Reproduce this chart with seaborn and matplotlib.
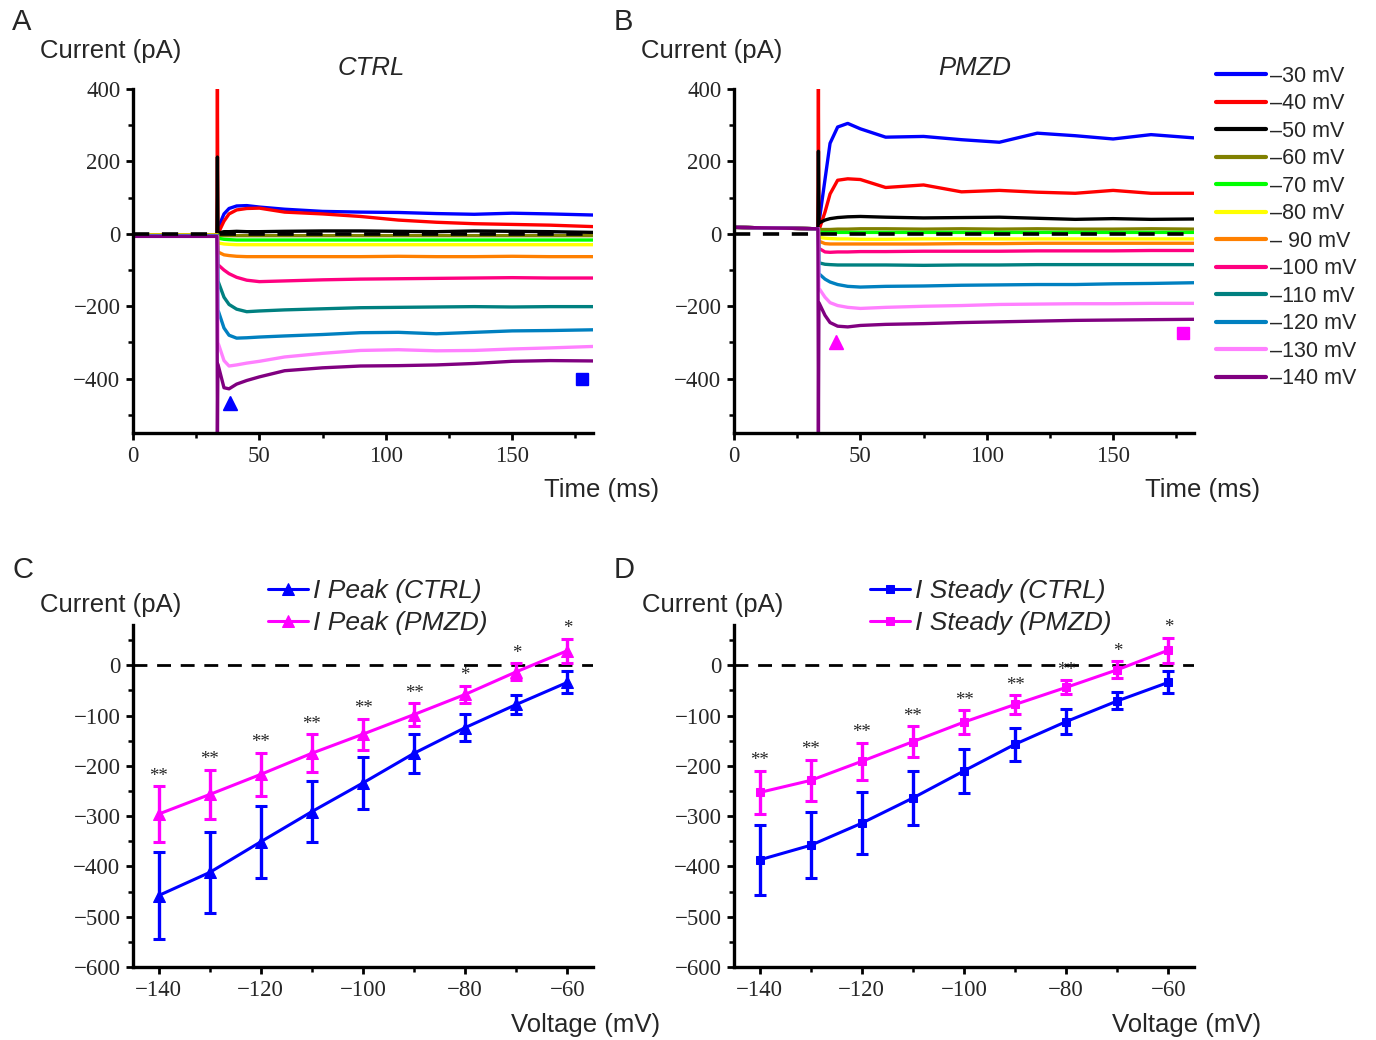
import pandas as pd
import seaborn as sns
import matplotlib.pyplot as plt
from matplotlib.ticker import MultipleLocator

# ---- traces (panels A and B), sampled on a shared time grid (ms) ----
TIME_MS = [0, 33.2, 33.4, 33.6, 36, 38, 41, 45, 50, 60, 75, 90, 105, 120, 135, 150, 165, 182]

STEP_LABELS = ["\u201330 mV", "\u201340 mV", "\u201350 mV", "\u201360 mV", "\u201370 mV",
               "\u201380 mV", "\u2013 90 mV", "\u2013100 mV", "\u2013110 mV", "\u2013120 mV",
               "\u2013130 mV", "\u2013140 mV"]
STEP_COLORS = ["#0000ff", "#ff0000", "#000000", "#808000", "#00ff00", "#ffff00",
               "#ff8000", "#ff0080", "#008080", "#0080c0", "#ff80ff", "#800080"]

CTRL_TRACES = [
    [-3, -3, -3, 15, 55, 70, 77, 78, 74, 68, 62, 60, 59, 56, 54, 57, 55, 52],
    [-3, -3, 400, 0, 35, 55, 66, 70, 71, 60, 55, 48, 38, 32, 28, 26, 24, 20],
    [-3, -3, 212, 2, 6, 6, 7, 6, 6, 7, 8, 8, 7, 6, 8, 7, 6, 4],
    [-3, -3, -3, -4, -5, -5, -5, -5, -5, -5, -5, -5, -5, -5, -5, -5, -5, -5],
    [-3, -3, -3, -12, -15, -16, -17, -17, -17, -17, -17, -17, -17, -17, -17, -17, -17, -17],
    [-3, -3, -3, -25, -28, -29, -30, -30, -30, -30, -30, -30, -30, -30, -30, -30, -30, -30],
    [-4, -4, -4, -50, -58, -60, -62, -63, -63, -63, -63, -63, -62, -63, -63, -62, -63, -63],
    [-5, -5, -5, -85, -100, -110, -120, -128, -132, -130, -127, -125, -124, -123, -122, -121, -122, -122],
    [-5, -5, -5, -130, -175, -195, -208, -215, -213, -210, -207, -204, -203, -202, -201, -202, -201, -201],
    [-5, -5, -5, -210, -260, -280, -288, -287, -285, -282, -278, -273, -272, -276, -272, -268, -267, -265],
    [-7, -7, -7, -300, -350, -365, -362, -357, -352, -340, -330, -322, -320, -323, -322, -318, -315, -311],
    [-7, -7, -550, -360, -425, -428, -415, -405, -395, -378, -370, -365, -364, -362, -358, -352, -350, -351],
]

PMZD_TRACES = [
    [18, 14, 14, 30, 150, 250, 295, 305, 290, 267, 269, 260, 253, 278, 271, 262, 274, 265],
    [18, 14, 400, 10, 60, 110, 148, 152, 150, 128, 135, 116, 120, 115, 112, 120, 112, 112],
    [18, 14, 228, 30, 38, 42, 45, 47, 48, 46, 44, 45, 46, 43, 40, 42, 40, 41],
    [18, 14, 14, 12, 12, 12, 13, 13, 14, 14, 13, 14, 13, 14, 13, 13, 14, 13],
    [18, 14, 14, 4, 4, 4, 4, 4, 4, 4, 4, 4, 4, 4, 4, 4, 4, 4],
    [18, 14, 14, -10, -12, -13, -14, -14, -15, -15, -14, -14, -14, -14, -14, -14, -14, -14],
    [18, 14, 14, -20, -27, -28, -28, -28, -28, -28, -28, -27, -27, -26, -26, -26, -26, -26],
    [18, 14, 14, -40, -50, -51, -50, -50, -49, -49, -48, -48, -48, -47, -47, -47, -46, -46],
    [18, 14, 14, -80, -84, -85, -86, -86, -86, -86, -87, -86, -86, -85, -85, -85, -85, -85],
    [18, 14, 14, -110, -125, -133, -140, -145, -147, -145, -144, -142, -141, -140, -140, -138, -137, -135],
    [18, 14, 14, -150, -175, -190, -198, -203, -206, -203, -200, -198, -195, -194, -193, -193, -192, -192],
    [18, 14, -550, -190, -225, -245, -255, -257, -253, -250, -248, -245, -243, -241, -239, -238, -237, -236],
]

# measurement markers (time ms, current pA): peak triangle, steady square
CTRL_MARKS_T = [38.5, 177.6]
CTRL_MARKS_I = [-466, -401]
PMZD_MARKS_T = [40.5, 177.8]
PMZD_MARKS_I = [-298, -275]

# ---- I-V data (panels C and D) ----
VOLTAGES = [-140, -130, -120, -110, -100, -90, -80, -70, -60]
PEAK_CTRL = [-458, -412, -351, -291, -234, -175, -124, -78, -34]
PEAK_CTRL_SEM = [87, 80, 72, 61, 52, 39, 27, 19, 22]
PEAK_PMZD = [-296, -257, -217, -175, -137, -98, -58, -13, 29]
PEAK_PMZD_SEM = [55, 49, 43, 38, 31, 23, 17, 17, 24]
PEAK_STARS = ["**", "**", "**", "**", "**", "**", "*", "*", "*"]

STEADY_CTRL = [-387, -358, -314, -264, -210, -157, -112, -71, -34]
STEADY_CTRL_SEM = [69, 66, 62, 54, 44, 33, 24, 17, 22]
STEADY_PMZD = [-253, -229, -191, -152, -113, -78, -44, -9, 30]
STEADY_PMZD_SEM = [43, 41, 37, 31, 24, 18, 14, 17, 25]
STEADY_STARS = ["**", "**", "**", "**", "**", "**", "**", "*", "*"]

BLUE = "#0000ff"
MAGENTA = "#ff00ff"

sns.set_theme(style="ticks")
plt.rcParams["font.family"] = ["Liberation Sans", "DejaVu Sans"]
SERIF = ["Liberation Serif", "DejaVu Serif"]

W, H = 1376, 1040
fig = plt.figure(figsize=(W / 100, H / 100), dpi=100)


def px_axes(left, top, right, bottom):
    return fig.add_axes([left / W, 1 - bottom / H, (right - left) / W, (bottom - top) / H])


def style_axes(ax):
    for side in ["top", "right"]:
        ax.spines[side].set_visible(False)
    for side in ["left", "bottom"]:
        ax.spines[side].set_linewidth(2.4)
        ax.spines[side].set_color("black")
    ax.tick_params(which="major", direction="out", length=5, width=2, color="black",
                   labelsize=16.5, pad=4)
    ax.tick_params(which="minor", direction="out", length=3.5, width=1.8, color="black")
    for lab in ax.get_xticklabels() + ax.get_yticklabels():
        lab.set_family(SERIF)
    ax.set_xlabel("")
    ax.set_ylabel("")
    ax.grid(False)


def trace_frame(traces):
    rows = {"time": [], "current": [], "step": []}
    for label, values in zip(STEP_LABELS, traces):
        rows["time"].extend(TIME_MS)
        rows["current"].extend(values)
        rows["step"].extend([label] * len(values))
    return pd.DataFrame(rows)


def draw_traces(ax, traces, marks_t, marks_i, mark_color):
    df = trace_frame(traces)
    sns.lineplot(data=df, x="time", y="current", hue="step", hue_order=STEP_LABELS,
                 palette=STEP_COLORS, estimator=None, sort=False, linewidth=2.4,
                 ax=ax, legend=True)
    ax.axhline(0, color="black", linestyle=(0, (4.5, 3.5)), linewidth=2.6, zorder=5)
    ax.plot(marks_t[:1], marks_i[:1], "^", color=mark_color, markersize=10, zorder=6)
    ax.plot(marks_t[1:], marks_i[1:], "s", color=mark_color, markersize=8, zorder=6)
    ax.set_xlim(0, 182)
    ax.set_ylim(-550, 400)
    ax.xaxis.set_major_locator(MultipleLocator(50))
    ax.xaxis.set_minor_locator(MultipleLocator(25))
    ax.yaxis.set_major_locator(MultipleLocator(200))
    ax.yaxis.set_minor_locator(MultipleLocator(100))
    style_axes(ax)


def draw_iv(ax, ctrl, ctrl_sem, pmzd, pmzd_sem, stars, marker, labels, msize):
    for mean, sem, color, label in [(ctrl, ctrl_sem, BLUE, labels[0]),
                                    (pmzd, pmzd_sem, MAGENTA, labels[1])]:
        sns.lineplot(x=VOLTAGES, y=mean, color=color, marker=marker, markersize=msize,
                     markeredgecolor=color, linewidth=2.2, label=label, ax=ax)
        ax.errorbar(VOLTAGES, mean, yerr=sem, fmt="none", ecolor=color,
                    elinewidth=2.4, capsize=4, capthick=2.2)
    for v, m, s, star in zip(VOLTAGES, pmzd, pmzd_sem, stars):
        ax.annotate(star, (v, m + s), xytext=(0, 1), textcoords="offset points",
                    ha="center", va="bottom", fontsize=13.5, family=SERIF)
    ax.axhline(0, color="black", linestyle=(0, (5, 3.5)), linewidth=2, zorder=0)
    ax.set_xlim(-145, -55)
    ax.set_ylim(-600, 80)
    ax.xaxis.set_major_locator(MultipleLocator(20))
    ax.xaxis.set_minor_locator(MultipleLocator(10))
    ax.yaxis.set_major_locator(MultipleLocator(100))
    ax.yaxis.set_minor_locator(MultipleLocator(50))
    style_axes(ax)


ax_a = px_axes(133, 89, 593, 433)
ax_b = px_axes(734, 89, 1194, 433)
ax_c = px_axes(133, 625, 593, 967)
ax_d = px_axes(734, 625, 1194, 967)

draw_traces(ax_a, CTRL_TRACES, CTRL_MARKS_T, CTRL_MARKS_I, BLUE)
ax_a.get_legend().remove()
draw_traces(ax_b, PMZD_TRACES, PMZD_MARKS_T, PMZD_MARKS_I, MAGENTA)
handles, labels = ax_b.get_legend_handles_labels()
ax_b.get_legend().remove()
for h in handles:
    h.set_linewidth(3)
fig.legend(handles, labels, loc="upper left", bbox_to_anchor=(1216 / W, 1 - 66 / H),
           frameon=False, fontsize=15.5, handlelength=2.3, handletextpad=0.2,
           labelspacing=0.3, borderpad=0, borderaxespad=0)

draw_iv(ax_c, PEAK_CTRL, PEAK_CTRL_SEM, PEAK_PMZD, PEAK_PMZD_SEM, PEAK_STARS, "^",
        ["I Peak (CTRL)", "I Peak (PMZD)"], 8)
draw_iv(ax_d, STEADY_CTRL, STEADY_CTRL_SEM, STEADY_PMZD, STEADY_PMZD_SEM, STEADY_STARS, "s",
        ["I Steady (CTRL)", "I Steady (PMZD)"], 6)
for ax, x0 in [(ax_c, 268), (ax_d, 870)]:
    ax.legend(loc="upper left", bbox_to_anchor=(x0 / W, 1 - 579 / H),
              bbox_transform=fig.transFigure, frameon=False,
              prop={"size": 19, "style": "italic"}, handlelength=1.5,
              handletextpad=0.2, labelspacing=0.3, borderpad=0, borderaxespad=0)

# panel letters, axis titles
for letter, x, y in [("A", 12, 22), ("B", 614, 22), ("C", 12, 570), ("D", 614, 570)]:
    fig.text(x / W, 1 - y / H, letter, fontsize=21, ha="left", va="center")
for x, y in [(40, 51), (641, 51), (40, 605), (642, 605)]:
    fig.text(x / W, 1 - y / H, "Current (pA)", fontsize=18.5, ha="left", va="center")
fig.text(371 / W, 1 - 68 / H, "CTRL", fontsize=18.5, style="italic", ha="center", va="center")
fig.text(975 / W, 1 - 68 / H, "PMZD", fontsize=18.5, style="italic", ha="center", va="center")
for x, y in [(659, 490), (1260, 490)]:
    fig.text(x / W, 1 - y / H, "Time (ms)", fontsize=18.5, ha="right", va="center")
for x, y in [(660, 1025), (1261, 1025)]:
    fig.text(x / W, 1 - y / H, "Voltage (mV)", fontsize=18.5, ha="right", va="center")

fig.savefig("out.png", dpi=100, facecolor="white")
